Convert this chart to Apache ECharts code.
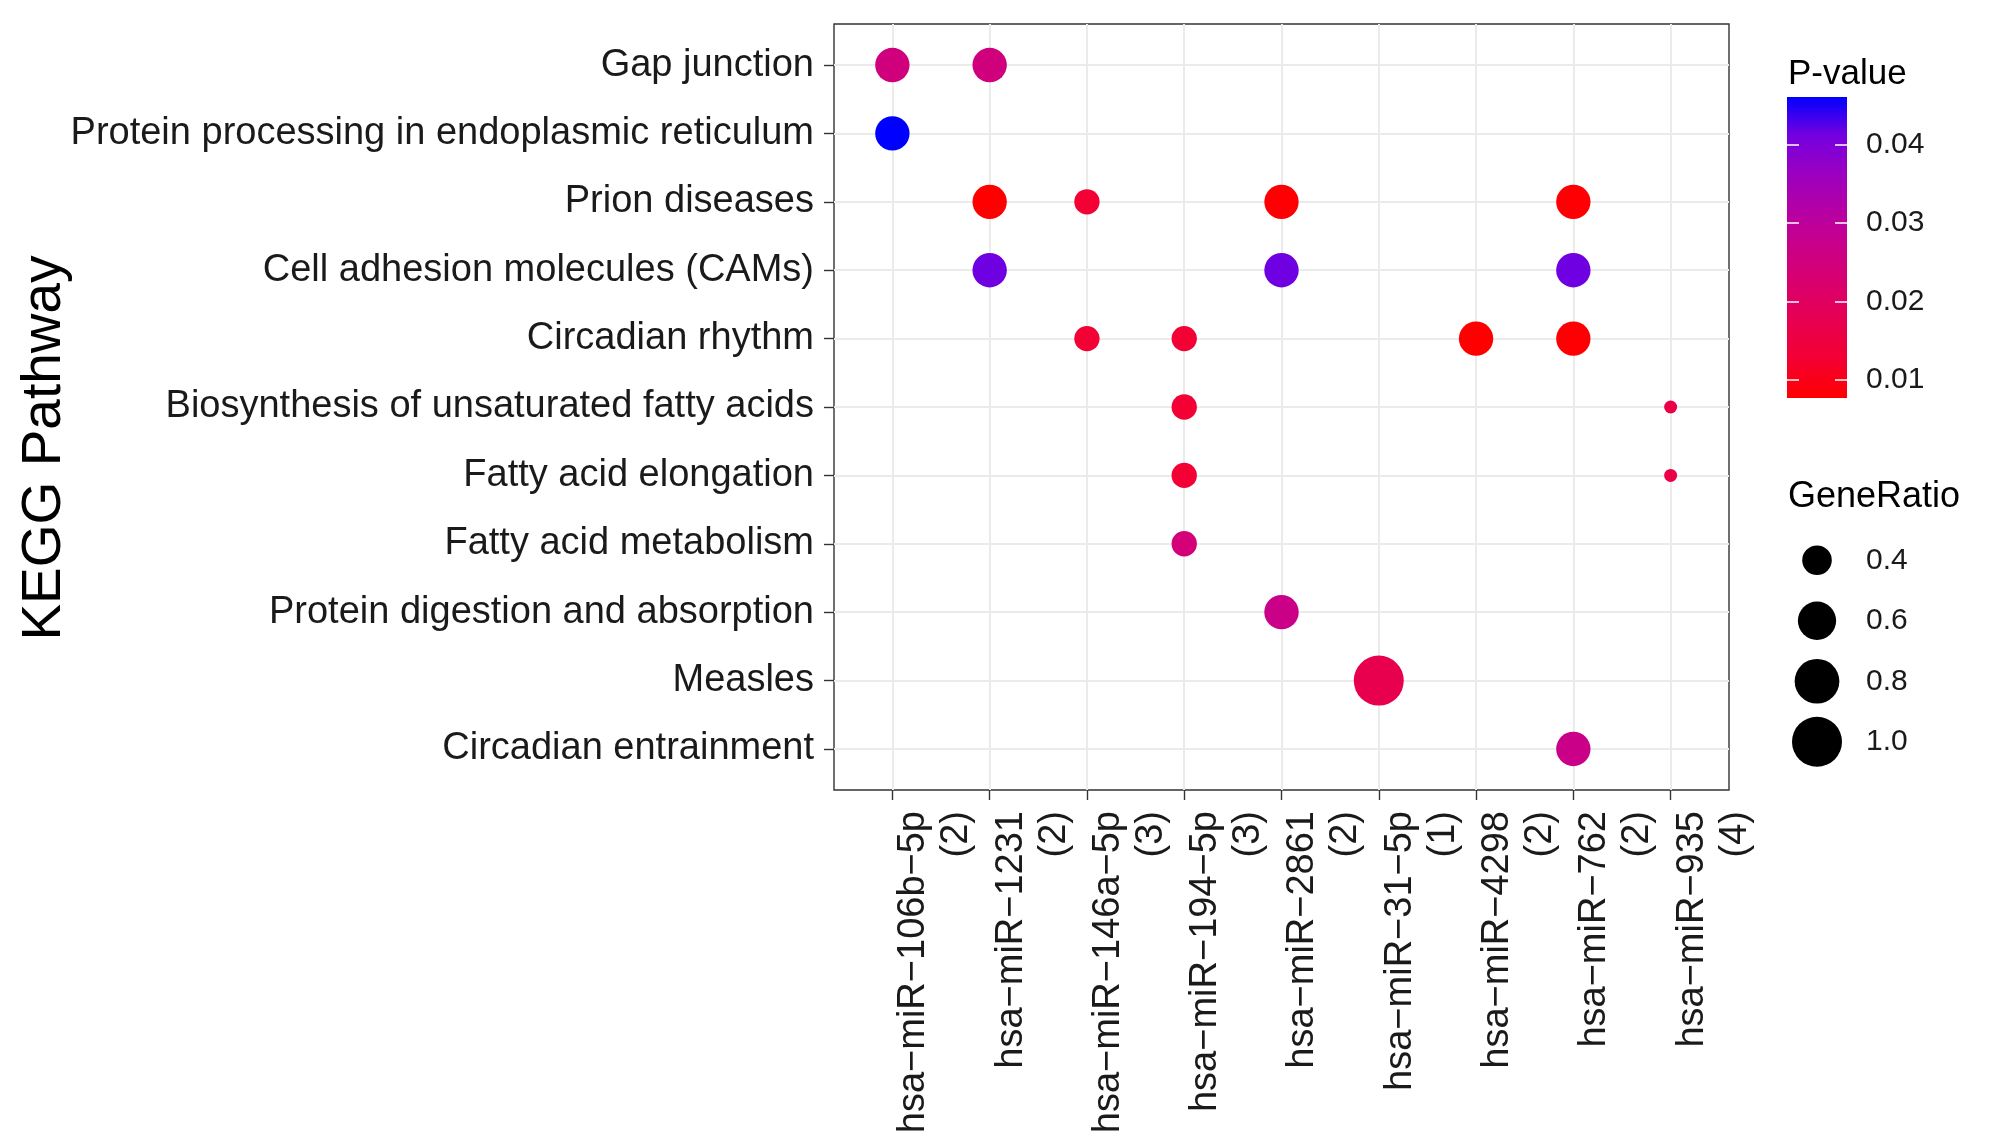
<!DOCTYPE html>
<html><head><meta charset="utf-8">
<script src="https://cdn.jsdelivr.net/npm/echarts@6/dist/echarts.min.js"></script>
<style>html,body{margin:0;padding:0;background:#fff}#c{width:2008px;height:1148px}</style>
</head><body><div id="c"></div>
<script>
// ---- data ----
const pathways = [
  'Gap junction',
  'Protein processing in endoplasmic reticulum',
  'Prion diseases',
  'Cell adhesion molecules (CAMs)',
  'Circadian rhythm',
  'Biosynthesis of unsaturated fatty acids',
  'Fatty acid elongation',
  'Fatty acid metabolism',
  'Protein digestion and absorption',
  'Measles',
  'Circadian entrainment'
];
const mirnas = [
  'hsa−miR−106b−5p', 'hsa−miR−1231', 'hsa−miR−146a−5p', 'hsa−miR−194−5p',
  'hsa−miR−2861', 'hsa−miR−31−5p', 'hsa−miR−4298', 'hsa−miR−762', 'hsa−miR−935'
];
const mirnaCounts = [2, 2, 3, 3, 2, 1, 2, 2, 4];

const pointMirna = [
  'hsa−miR−106b−5p', 'hsa−miR−1231',
  'hsa−miR−106b−5p',
  'hsa−miR−1231', 'hsa−miR−146a−5p', 'hsa−miR−2861', 'hsa−miR−762',
  'hsa−miR−1231', 'hsa−miR−2861', 'hsa−miR−762',
  'hsa−miR−146a−5p', 'hsa−miR−194−5p', 'hsa−miR−4298', 'hsa−miR−762',
  'hsa−miR−194−5p', 'hsa−miR−935',
  'hsa−miR−194−5p', 'hsa−miR−935',
  'hsa−miR−194−5p',
  'hsa−miR−2861',
  'hsa−miR−31−5p',
  'hsa−miR−762'
];
const pointPathway = [
  'Gap junction', 'Gap junction',
  'Protein processing in endoplasmic reticulum',
  'Prion diseases', 'Prion diseases', 'Prion diseases', 'Prion diseases',
  'Cell adhesion molecules (CAMs)', 'Cell adhesion molecules (CAMs)', 'Cell adhesion molecules (CAMs)',
  'Circadian rhythm', 'Circadian rhythm', 'Circadian rhythm', 'Circadian rhythm',
  'Biosynthesis of unsaturated fatty acids', 'Biosynthesis of unsaturated fatty acids',
  'Fatty acid elongation', 'Fatty acid elongation',
  'Fatty acid metabolism',
  'Protein digestion and absorption',
  'Measles',
  'Circadian entrainment'
];
const geneRatio = [
  0.5, 0.5,
  0.5,
  0.5, 0.3333, 0.5, 0.5,
  0.5, 0.5, 0.5,
  0.3333, 0.3333, 0.5, 0.5,
  0.3333, 0.25,
  0.3333, 0.25,
  0.3333,
  0.5,
  1.0,
  0.5
];
const pValue = [
  0.025, 0.025,
  0.0461,
  0.0077, 0.013, 0.008, 0.008,
  0.0415, 0.0415, 0.0415,
  0.013, 0.013, 0.0078, 0.008,
  0.013, 0.016,
  0.013, 0.016,
  0.024,
  0.027,
  0.0173,
  0.027
];
const sizeLegendValues = [0.4, 0.6, 0.8, 1.0];
const pTicks = [0.01, 0.02, 0.03, 0.04];
const pMin = 0.0077, pMax = 0.0461;
const ratioMin = 0.25, ratioMax = 1.0;

// ---- styling helpers ----
const FONT = "'Liberation Sans', Arial, Helvetica, sans-serif";
const gradStops = ['#FF0000', '#F40031', '#E8004F', '#DA006C', '#CA0088', '#B500A5', '#9A00C2', '#7300E0', '#0000FF'];
function sizeOf(g) {
  return 13 + 37 * Math.sqrt((g - ratioMin) / (ratioMax - ratioMin));
}
const xIdx = mirnas.map((_, i) => i);
const yIdx = pathways.map((_, i) => i);

const points = pointMirna.map((m, i) => [mirnas.indexOf(m), pathways.indexOf(pointPathway[i]), geneRatio[i], pValue[i]]);

const chart = echarts.init(document.getElementById('c'), null, { renderer: 'canvas' });
const option = {
  backgroundColor: '#ffffff',
  animation: false,
  textStyle: { fontFamily: FONT },
  grid: [
    { left: 834, top: 24, width: 895, height: 766, show: true, borderColor: '#333333', borderWidth: 1.4, backgroundColor: 'rgba(0,0,0,0)' },
    { left: 1787, top: 97, width: 60, height: 301 },
    { left: 1790, top: 530, width: 54, height: 242 }
  ],
  xAxis: [
    {
      gridIndex: 0, type: 'value', min: -0.6, max: 8.6, splitNumber: 9,
      axisLine: { show: false, onZero: false },
      axisTick: { show: true, length: 10, customValues: xIdx, lineStyle: { color: '#333333', width: 1.4 } },
      axisLabel: {
        show: true, customValues: xIdx, rotate: 90, interval: 0, hideOverlap: false,
        showMinLabel: true, showMaxLabel: true,
        formatter: v => (Number.isInteger(v) && mirnas[v]) ? mirnas[v] + '\n(' + mirnaCounts[v] + ')' : '',
        fontSize: 38, lineHeight: 43, color: '#1a1a1a', fontFamily: FONT, margin: 21,
        verticalAlign: 'top'
      },
      splitLine: { show: true, lineStyle: { color: '#EBEBEB', width: 2 } }
    },
    { gridIndex: 1, type: 'value', min: 0, max: 1, show: false },
    { gridIndex: 2, type: 'value', min: -1, max: 1, show: false }
  ],
  yAxis: [
    {
      gridIndex: 0, type: 'value', inverse: true, min: -0.6, max: 10.6, splitNumber: 11,
      axisLine: { show: false, onZero: false },
      axisTick: { show: true, length: 10, customValues: yIdx, lineStyle: { color: '#333333', width: 1.4 } },
      axisLabel: {
        show: true, customValues: yIdx, interval: 0, hideOverlap: false,
        showMinLabel: true, showMaxLabel: true,
        formatter: v => (Number.isInteger(v) && pathways[v]) ? pathways[v] : '',
        fontSize: 38, color: '#1a1a1a', fontFamily: FONT, margin: 20
      },
      splitLine: { show: true, lineStyle: { color: '#EBEBEB', width: 2 } }
    },
    {
      gridIndex: 1, type: 'value', min: pMin, max: pMax, position: 'left', z: 10,
      axisLine: { show: false, onZero: false },
      axisTick: { show: true, inside: true, length: 12, customValues: pTicks, lineStyle: { color: '#ffffff', width: 1.5 } },
      axisLabel: { show: false },
      splitLine: { show: false }
    },
    {
      gridIndex: 1, type: 'value', min: pMin, max: pMax, position: 'right', z: 10,
      axisLine: { show: false, onZero: false },
      axisTick: { show: true, inside: true, length: 12, customValues: pTicks, lineStyle: { color: '#ffffff', width: 1.5 } },
      axisLabel: { show: true, customValues: pTicks, showMinLabel: true, showMaxLabel: true, formatter: v => v.toFixed(2), fontSize: 30, color: '#1a1a1a', fontFamily: FONT, margin: 19 },
      splitLine: { show: false }
    },
    {
      gridIndex: 2, type: 'category', inverse: true, position: 'right',
      data: sizeLegendValues.map(v => v.toFixed(1)),
      axisLine: { show: false, onZero: false }, axisTick: { show: false },
      axisLabel: { fontSize: 30, color: '#1a1a1a', fontFamily: FONT, margin: 22 },
      splitLine: { show: false }
    }
  ],
  visualMap: {
    type: 'continuous', show: false, seriesIndex: 0, dimension: 3,
    min: pMin, max: pMax, inRange: { color: gradStops }
  },
  series: [
    {
      type: 'scatter', xAxisIndex: 0, yAxisIndex: 0,
      data: points,
      symbol: 'circle',
      symbolSize: v => sizeOf(v[2]),
      itemStyle: { opacity: 1 },
      z: 3
    },
    {
      type: 'custom', xAxisIndex: 1, yAxisIndex: 1, z: 1,
      data: [[0, pMin]],
      renderItem: (params, api) => {
        const p0 = api.coord([0, pMin]);
        const p1 = api.coord([1, pMax]);
        const stops = gradStops.map((c, i) => ({ offset: 1 - i / (gradStops.length - 1), color: c })).reverse();
        return {
          type: 'rect',
          shape: { x: p0[0], y: p1[1], width: p1[0] - p0[0], height: p0[1] - p1[1] },
          style: { fill: new echarts.graphic.LinearGradient(0, 0, 0, 1, stops) }
        };
      }
    },
    {
      type: 'scatter', xAxisIndex: 2, yAxisIndex: 3,
      data: sizeLegendValues.map((v, i) => [0, i, v]),
      symbol: 'circle',
      symbolSize: v => sizeOf(v[2]),
      itemStyle: { color: '#000000', opacity: 1 }
    }
  ],
  graphic: [
    { type: 'text', x: 45, y: 448, rotation: Math.PI / 2, style: { text: 'KEGG Pathway', fontSize: 55, fill: '#000000', fontFamily: FONT, align: 'center', verticalAlign: 'middle' } },
    { type: 'text', left: 1788, top: 57, style: { text: 'P-value', fontSize: 35, fill: '#000000', fontFamily: FONT } },
    { type: 'text', left: 1788, top: 479, style: { text: 'GeneRatio', fontSize: 36, fill: '#000000', fontFamily: FONT } }
  ]
};
chart.setOption(option);
</script>
</body></html>
